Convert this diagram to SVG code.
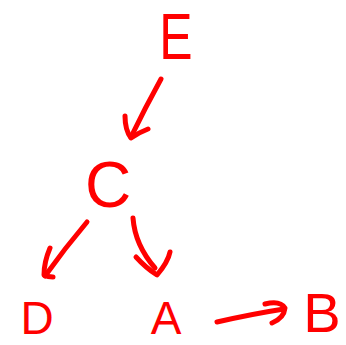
<svg xmlns="http://www.w3.org/2000/svg" width="346" height="345" viewBox="0 0 346 345">
<style>
.lbl{font-family:"Liberation Sans","DejaVu Sans",sans-serif;fill:#ff0000;text-anchor:middle}
.ink{fill:none;stroke:#ff0000;stroke-width:5;stroke-linecap:round;stroke-linejoin:round}
</style>
<rect width="346" height="345" fill="#ffffff"/>
<g id="connectors">
<path class="ink" d="M161,79 Q145,108 131,137"/>
<path class="ink" d="M125,116 Q125,130 131,138 Q140,132 148,129"/>
<path class="ink" d="M87,222 Q65,248 45,276"/>
<path class="ink" d="M50,248 Q44,262 44,275 Q48,277 53,277"/>
<path class="ink" d="M133,218 Q135,245 155,268"/>
<path class="ink" d="M136,257 Q146,268 157,275 Q168,262 170,252"/>
<path class="ink" d="M217,322 Q252,314 284,309"/>
<path class="ink" d="M265,304 Q280,300 285,308 Q284,318 272,323"/>
</g>
<g id="node-E"><text class="lbl" font-size="64" transform="translate(176,59) scale(0.78,1)">E</text></g>
<g id="node-C"><text class="lbl" font-size="64" x="108" y="207">C</text></g>
<g id="node-D"><text class="lbl" font-size="46" x="37" y="334">D</text></g>
<g id="node-A"><text class="lbl" font-size="46" x="166" y="334">A</text></g>
<g id="node-B"><text class="lbl" font-size="56" x="322" y="332">B</text></g>
</svg>
